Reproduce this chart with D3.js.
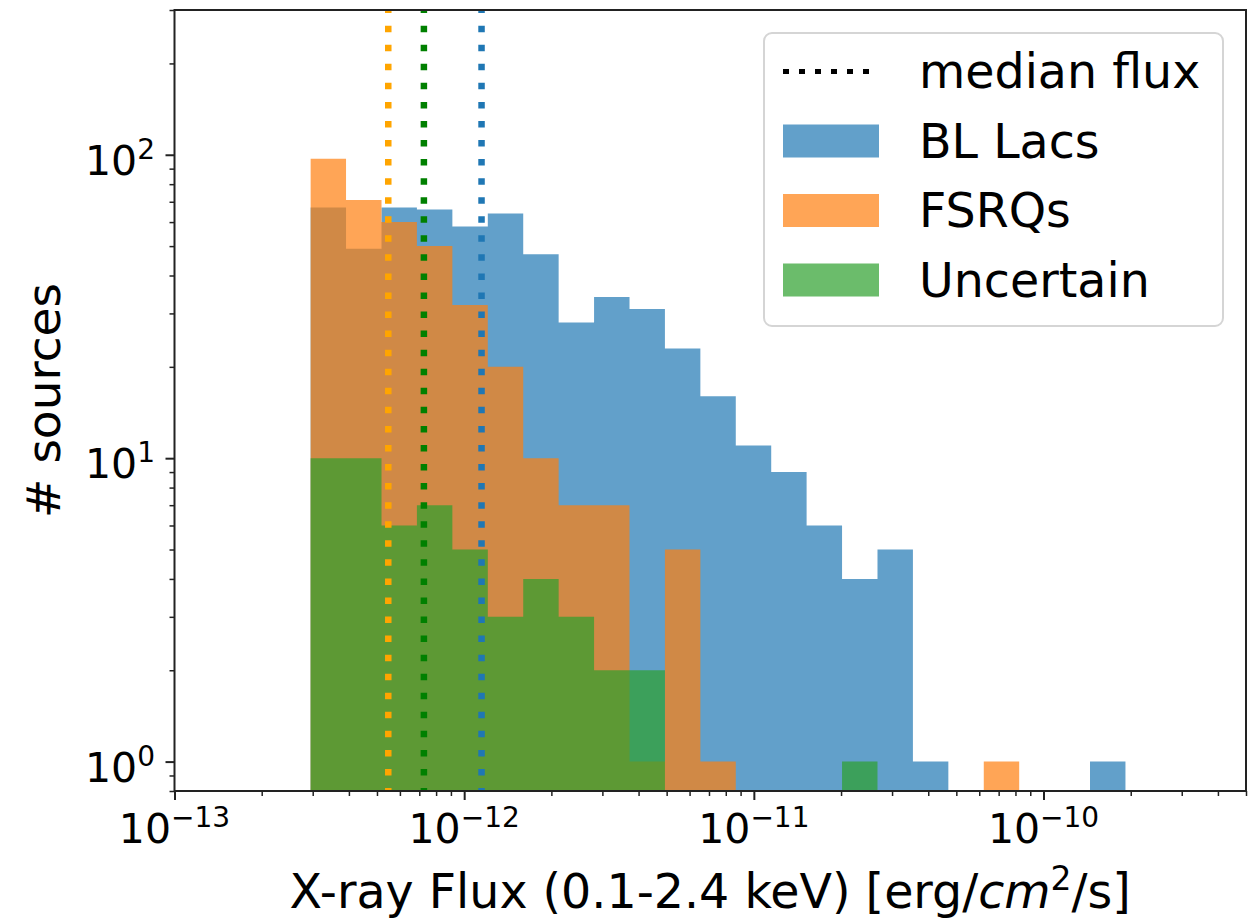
<!DOCTYPE html>
<html><head><meta charset="utf-8">
<script src="https://cdn.jsdelivr.net/npm/d3@7"></script>
<style>body{margin:0;background:#fff} text{font-family:"DejaVu Sans",sans-serif;fill:#000}</style>
</head><body><svg id="chart" width="1260" height="918"></svg>
<script>
// ---- data ----
const binEdges = [2.951e-13, 3.910e-13, 5.184e-13, 6.868e-13, 9.104e-13, 1.2066e-12, 1.599e-12, 2.119e-12,
  2.808e-12, 3.722e-12, 4.932e-12, 6.537e-12, 8.662e-12, 1.148e-11, 1.521e-11, 2.016e-11, 2.672e-11,
  3.541e-11, 4.693e-11, 6.219e-11, 8.241e-11, 1.092e-10, 1.447e-10, 1.918e-10];
const blLacsCounts   = [67, 49, 67, 66, 58, 64, 47, 28, 34, 31, 23, 16, 11, 9, 6, 4, 5, 1, 0, 0, 0, 0, 1];
const fsrqCounts     = [97, 71, 60, 50, 32, 20, 10, 7, 7, 1, 5, 1, 0, 0, 0, 0, 0, 0, 0, 1, 0, 0, 0];
const uncertainCounts= [10, 10, 6, 7, 5, 3, 4, 3, 2, 2, 0, 0, 0, 0, 0, 1, 0, 0, 0, 0, 0, 0, 0];
const seriesNames = ["BL Lacs", "FSRQs", "Uncertain"];
const seriesColors = ["#1f77b4", "#ff7f0e", "#2ca02c"];
const medianFlux = [1.148e-12, 5.47e-13, 7.26e-13];   // BL Lacs, FSRQs, Uncertain
const medianColors = ["#1f77b4", "orange", "green"];
const xTickExps = [-13, -12, -11, -10];
const yTickExps = [0, 1, 2];
const xLabel = "X-ray Flux (0.1-2.4 keV) [erg/";
const yLabel = "# sources";
const legendLineLabel = "median flux";

// ---- layout ----
const M = {left: 174.5, right: 1246, top: 10, bottom: 791};
const svg = d3.select("#chart");
const x = d3.scaleLog().domain([1e-13, 5e-10]).range([M.left, M.right]);
const y = d3.scaleLog().domain([0.8, 300]).range([M.bottom, M.top]);

svg.append("defs").append("clipPath").attr("id", "clip").append("rect")
  .attr("x", M.left).attr("y", M.top).attr("width", M.right - M.left).attr("height", M.bottom - M.top);

const plot = svg.append("g").attr("clip-path", "url(#clip)");
const allCounts = [blLacsCounts, fsrqCounts, uncertainCounts];
allCounts.forEach((counts, si) => {
  const p = d3.path();
  counts.forEach((c, i) => {
    if (c > 0) {
      const x0 = x(binEdges[i]), x1 = x(binEdges[i + 1]), yt = y(c);
      p.rect(x0, yt, x1 - x0, M.bottom + 2 - yt);
    }
  });
  plot.append("path").attr("d", p.toString()).attr("fill", seriesColors[si]).attr("fill-opacity", 0.7);
});

plot.selectAll("line.median").data(medianFlux).join("line").attr("class", "median")
  .attr("x1", d => x(d)).attr("x2", d => x(d)).attr("y1", M.bottom).attr("y2", M.top)
  .attr("stroke", (d, i) => medianColors[i]).attr("stroke-width", 6.5)
  .attr("stroke-dasharray", "6.5 12.56").attr("stroke-dashoffset", 3.55);

// ---- axes ----
const xMajor = xTickExps.map(e => Math.pow(10, e));
const xMinor = [];
xTickExps.forEach(e => { for (let m = 2; m <= 9; m++) { const v = m * Math.pow(10, e); if (v <= 5.0001e-10) xMinor.push(v); } });
const yMajor = yTickExps.map(e => Math.pow(10, e));
const yMinor = [0.8, 0.9];
yTickExps.forEach(e => { for (let m = 2; m <= 9; m++) { const v = m * Math.pow(10, e); if (v <= 300) yMinor.push(v); } });

function styleAxis(g, w) {
  g.select(".domain").remove();
  g.selectAll(".tick line").attr("stroke", "#222").attr("stroke-width", w);
  g.selectAll(".tick text").remove();
}
svg.append("g").attr("transform", `translate(0,${M.bottom})`)
  .call(d3.axisBottom(x).tickValues(xMinor).tickSize(5)).call(g => styleAxis(g, 1.5));
svg.append("g").attr("transform", `translate(0,${M.bottom})`)
  .call(d3.axisBottom(x).tickValues(xMajor).tickSize(9)).call(g => styleAxis(g, 2));
svg.append("g").attr("transform", `translate(${M.left},0)`)
  .call(d3.axisLeft(y).tickValues(yMinor).tickSize(5)).call(g => styleAxis(g, 1.5));
svg.append("g").attr("transform", `translate(${M.left},0)`)
  .call(d3.axisLeft(y).tickValues(yMajor).tickSize(9)).call(g => styleAxis(g, 2));

// tick labels
const xl = svg.append("g").selectAll("text").data(xTickExps).join("text")
  .attr("x", d => x(Math.pow(10, d))).attr("y", 843).attr("text-anchor", "middle").attr("font-size", 41);
xl.append("tspan").text("10");
xl.append("tspan").attr("font-size", 28).attr("dy", -16).text(d => "\u2212" + Math.abs(d));

const yl = svg.append("g").selectAll("text").data(yTickExps).join("text")
  .attr("x", 155).attr("y", d => y(Math.pow(10, d)) + 20).attr("text-anchor", "end").attr("font-size", 41);
yl.append("tspan").text("10");
yl.append("tspan").attr("font-size", 28).attr("dy", -16).text(d => String(d));

// frame
svg.append("rect").attr("x", M.left).attr("y", M.top).attr("width", M.right - M.left).attr("height", M.bottom - M.top)
  .attr("fill", "none").attr("stroke", "#222").attr("stroke-width", 2);

// axis labels
const xt = svg.append("text").attr("x", (M.left + M.right) / 2).attr("y", 908).attr("text-anchor", "middle").attr("font-size", 47.5);
xt.append("tspan").text(xLabel);
xt.append("tspan").attr("font-style", "italic").text("cm");
xt.append("tspan").attr("font-size", 33).attr("dy", -18).text("2");
xt.append("tspan").attr("dy", 18).text("/s]");
svg.append("text").attr("transform", `translate(60,${(M.top + M.bottom) / 2}) rotate(-90)`)
  .attr("text-anchor", "middle").attr("font-size", 47).text(yLabel);

// ---- legend ----
const lg = svg.append("g");
lg.append("rect").attr("x", 764).attr("y", 33).attr("width", 459).attr("height", 293).attr("rx", 8)
  .attr("fill", "#fff").attr("fill-opacity", 0.8).attr("stroke", "#d5d5d5").attr("stroke-width", 2);
const rowY = i => 71.5 + 69.5 * i;
lg.append("line").attr("x1", 783).attr("x2", 879).attr("y1", rowY(0)).attr("y2", rowY(0))
  .attr("stroke", "#000").attr("stroke-width", 5).attr("stroke-dasharray", "6 10");
lg.append("text").attr("x", 919).attr("y", rowY(0) + 16.5).attr("font-size", 47.5).text(legendLineLabel);
seriesNames.forEach((n, i) => {
  lg.append("rect").attr("x", 783).attr("y", rowY(i + 1) - 16.5).attr("width", 96).attr("height", 33)
    .attr("fill", seriesColors[i]).attr("fill-opacity", 0.7);
  lg.append("text").attr("x", 919).attr("y", rowY(i + 1) + 16.5).attr("font-size", 47.5).text(n);
});
</script></body></html>
